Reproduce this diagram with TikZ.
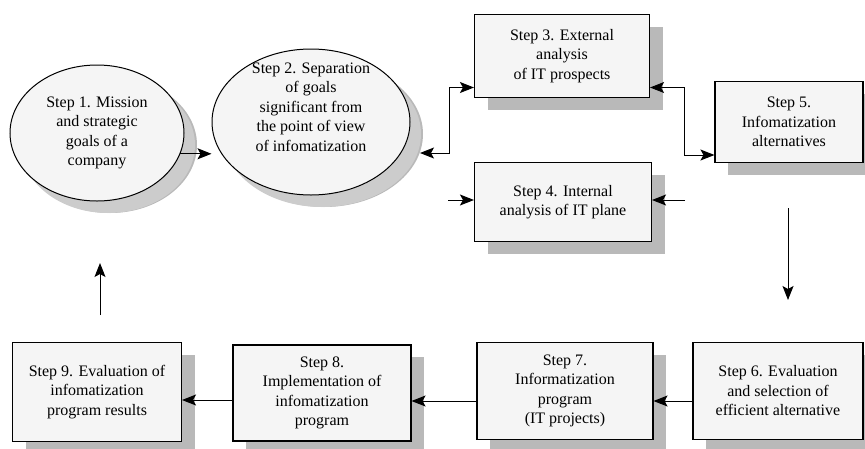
\documentclass[tikz,border=0pt]{standalone}
\usepackage{fontspec}
\setmainfont{Liberation Serif}
\usetikzlibrary{shapes.geometric, shadows, arrows.meta}
\tikzset{
  steptext/.style={align=center, font=\fontsize{16}{19.5}\selectfont},
  stepbox/.style={steptext, draw, line width=1.1pt, fill=gray!8,
    drop shadow={shadow xshift=13pt, shadow yshift=-12pt, fill=gray!55, opacity=1}},
  stepell/.style={stepbox, ellipse, inner sep=0pt, line width=1pt,
    drop shadow={shadow xshift=11pt, shadow yshift=-12pt, fill=gray!40, opacity=1}},
  conn/.style={-{Stealth[length=14pt,width=11pt,inset=3pt]}, line width=1pt},
  dconn/.style={{Stealth[length=14pt,width=11pt,inset=3pt]}-{Stealth[length=14pt,width=11pt,inset=3pt]}, line width=1pt}
}

\begin{document}
\begin{tikzpicture}[x=1pt, y=-1pt]
    \useasboundingbox (0,0) rectangle (865,448);
    \node[stepell, minimum width=174pt, minimum height=136pt] (s1) at (97,133) {Step 1. Mission\\and strategic\\goals of a\\company};
    \node[stepell, minimum width=198pt, minimum height=146pt] (s2) at (311,122) {};
    \node[steptext] (s2txt) at ([yshift=15pt]s2.center) {Step 2. Separation\\of goals\\significant from\\the point of view\\of infomatization};
    \node[stepbox, minimum width=175pt, minimum height=83pt] (s3) at (562,56) {Step 3. External\\analysis\\of IT prospects};
    \node[stepbox, minimum width=177pt, minimum height=79pt] (s4) at (563,202) {Step 4. Internal\\analysis of IT plane};
    \node[stepbox, minimum width=148pt, minimum height=81pt] (s5) at (789,122) {Step 5.\\Infomatization\\alternatives};
    \node[stepbox, minimum width=170pt, minimum height=97pt] (s6) at (778,391) {Step 6. Evaluation\\and selection of\\efficient alternative};
    \node[stepbox, minimum width=176pt, minimum height=97pt] (s7) at (565,391) {Step 7.\\Informatization\\program\\(IT projects)};
    \node[stepbox, minimum width=178pt, minimum height=96pt] (s8) at (322,393) {Step 8.\\Implementation of\\infomatization\\program};
    \node[stepbox, minimum width=169pt, minimum height=99pt] (s9) at (97,392) {Step 9. Evaluation of\\infomatization\\program results};

    \coordinate (t2) at (420,153);
    \coordinate (j2) at (449,153);
    \coordinate (j3) at (684,155);
    \coordinate (a4l) at (448,200);
    \coordinate (a4r) at (685,200);
    \coordinate (d5) at (788,208);
    \coordinate (d6) at (788,300);
    \coordinate (u9) at (100,315);
    \coordinate (u1) at (100,263);

    \draw[conn] (s1.-14) -- (s1.-14 -| s2.west);
    \draw[dconn] (t2) -- (j2) |- ([yshift=-31.5pt]s3.west);
    \draw[dconn] ([yshift=-31.5pt]s3.east) -| (j3) -- (j3 -| s5.west);
    \draw[conn] (a4l) -- (a4l -| s4.west);
    \draw[conn] (a4r) -- (a4r -| s4.east);
    \draw[conn] (d5) -- (d6);
    \draw[conn] ([yshift=-10pt]s6.west) -- ([yshift=-10pt]s6.west -| s7.east);
    \draw[conn] ([yshift=-10pt]s7.west) -- ([yshift=-10pt]s7.west -| s8.east);
    \draw[conn] ([yshift=-7pt]s8.west) -- ([yshift=-7pt]s8.west -| s9.east);
    \draw[conn] (u9) -- (u1);
\end{tikzpicture}
\end{document}
